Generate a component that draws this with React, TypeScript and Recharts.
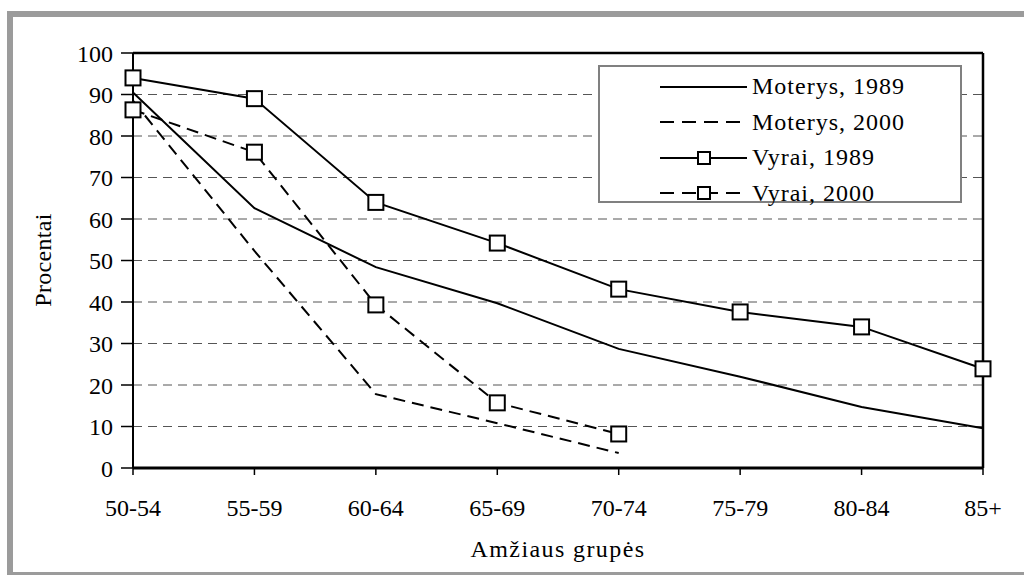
import { CartesianGrid, Line, LineChart, ReferenceLine, XAxis, YAxis } from 'recharts'

const ageGroups = ['50-54', '55-59', '60-64', '65-69', '70-74', '75-79', '80-84', '85+']
const women1989 = [90.5, 62.6, 48.4, 39.7, 28.7, 22, 14.7, 9.6]
const women2000 = [88.5, 52.3, 17.8, 10.8, 3.6]
const men1989 = [94, 89, 64, 54.2, 43.1, 37.6, 34, 23.9]
const men2000 = [86.3, 76.1, 39.3, 15.7, 8.2]
const yTicks = [0, 10, 20, 30, 40, 50, 60, 70, 80, 90, 100]

const seriesInfo = [
  { key: 'women1989', name: 'Moterys, 1989', dash: undefined, marker: false },
  { key: 'women2000', name: 'Moterys, 2000', dash: '12 7', marker: false },
  { key: 'men1989', name: 'Vyrai, 1989', dash: undefined, marker: true },
  { key: 'men2000', name: 'Vyrai, 2000', dash: '12 7', marker: true },
]

const data = ageGroups.map((age, i) => ({
  age,
  women1989: women1989[i],
  women2000: women2000[i],
  men1989: men1989[i],
  men2000: men2000[i],
}))

const FONT = "'Liberation Serif', 'Times New Roman', serif"

function SquareDot(props: any) {
  const { cx, cy, index } = props
  if (cx == null || cy == null || Number.isNaN(cy)) return <g key={index} />
  return <rect key={index} x={cx - 7.5} y={cy - 7.5} width={15} height={15} fill="#fff" stroke="#000" strokeWidth={2} />
}

function LegendBox() {
  return (
    <div
      style={{
        position: 'absolute',
        left: 598,
        top: 65,
        width: 364,
        height: 138,
        boxSizing: 'border-box',
        border: '2px solid #808080',
        background: '#fff',
        paddingTop: 2,
      }}
    >
      {seriesInfo.map(s => (
        <div key={s.key} style={{ display: 'flex', alignItems: 'center', height: 35.5 }}>
          <svg width={150} height={20} style={{ flex: 'none' }}>
            <line x1={60} y1={10} x2={147} y2={10} stroke="#000" strokeWidth={2} strokeDasharray={s.dash ? '14 8' : undefined} />
            {s.marker && <rect x={98} y={4} width={12} height={12} fill="#fff" stroke="#000" strokeWidth={2} />}
          </svg>
          <span style={{ fontFamily: FONT, fontSize: 24, letterSpacing: 1, color: '#000', marginLeft: 2 }}>{s.name}</span>
        </div>
      ))}
    </div>
  )
}

export default function App() {
  return (
    <div style={{ position: 'absolute', left: 0, top: 0, width: 1024, height: 575, overflow: 'hidden', background: '#fff' }}>
      <div
        style={{
          position: 'absolute',
          left: 7,
          top: 11,
          width: 1100,
          height: 555,
          border: '6px solid #9b9b9b',
        }}
      />
      <div style={{ position: 'absolute', left: 0, top: 0 }}>
        <LineChart width={1024} height={575} data={data} margin={{ top: 53, right: 41, bottom: 7, left: 23 }}>
          <CartesianGrid horizontal vertical={false} stroke="#555" strokeDasharray="9 6" />
          <XAxis
            dataKey="age"
            height={100}
            axisLine={{ stroke: '#000', strokeWidth: 3 }}
            tickLine={{ stroke: '#000', strokeWidth: 1.5 }}
            tickSize={7}
            tickMargin={24}
            tick={{ fill: '#000', fontFamily: FONT, fontSize: 24 }}
            interval={0}
            label={{
              content: (p: any) => (
                <text x={p.viewBox.x + p.viewBox.width / 2} y={557} textAnchor="middle" fontFamily={FONT} fontSize={24} letterSpacing={1.4} fill="#000">
                  Amžiaus grupės
                </text>
              ),
            }}
          />
          <YAxis
            width={110}
            domain={[0, 100]}
            ticks={yTicks}
            interval={0}
            axisLine={{ stroke: '#000', strokeWidth: 2 }}
            tickLine={{ stroke: '#000', strokeWidth: 1.5 }}
            tickSize={12}
            tickMargin={8}
            tick={{ fill: '#000', fontFamily: FONT, fontSize: 24 }}
            label={{
              content: () => (
                <text x={51} y={260} textAnchor="middle" transform="rotate(-90 51 260)" fontFamily={FONT} fontSize={24} letterSpacing={0.3} fill="#000">
                  Procentai
                </text>
              ),
            }}
          />
          <ReferenceLine y={100} stroke="#000" strokeWidth={2.5} />
          <ReferenceLine x="85+" stroke="#000" strokeWidth={2.5} />
          {seriesInfo.map(s => (
            <Line
              key={s.key}
              type="linear"
              dataKey={s.key}
              name={s.name}
              stroke="#000"
              strokeWidth={2}
              strokeDasharray={s.dash}
              dot={s.marker ? (p: any) => <SquareDot {...p} /> : false}
              activeDot={false}
              connectNulls={false}
              isAnimationActive={false}
            />
          ))}
        </LineChart>
      </div>
      <LegendBox />
    </div>
  )
}
